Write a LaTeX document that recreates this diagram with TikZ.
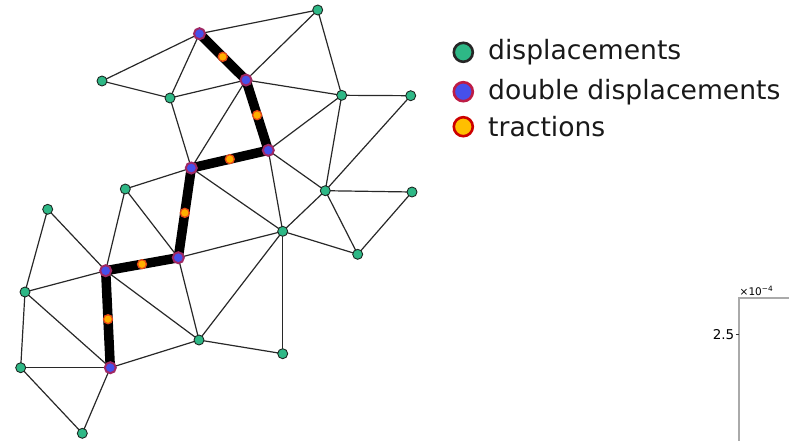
\documentclass[tikz,border=0pt]{standalone}
\usepackage{fontspec}
\setmainfont{DejaVu Sans}
\pgfdeclarelayer{edges}
\pgfsetlayers{edges,main}
\definecolor{gfill}{RGB}{46,184,134}
\definecolor{gline}{RGB}{30,40,35}
\definecolor{bfill}{RGB}{70,80,235}
\definecolor{bline}{RGB}{160,40,100}
\definecolor{ofill}{RGB}{255,175,0}
\definecolor{oline}{RGB}{230,70,20}
\definecolor{edgec}{RGB}{40,40,40}
\definecolor{axisc}{RGB}{170,170,170}
\tikzset{
  gnode/.style={circle,fill=gfill,draw=gline,line width=0.9pt,minimum size=10pt,inner sep=0pt},
  dnode/.style={circle,fill=bfill,draw=bline,line width=2pt,minimum size=11pt,inner sep=0pt},
  tnode/.style={circle,fill=ofill,draw=oline,line width=1.3pt,minimum size=9pt,inner sep=0pt},
  thin edge/.style={draw=edgec,line width=1.2pt},
  thick edge/.style={draw=black,line width=9.5pt,line join=round},
  lg/.style={circle,fill=gfill,draw=black!85,line width=2.6pt,minimum size=19pt,inner sep=0pt},
  lb/.style={circle,fill=bfill,draw=bline!70!red,line width=2.6pt,minimum size=19pt,inner sep=0pt},
  lo/.style={circle,fill=ofill!80!yellow,draw=red!80!black,line width=2.6pt,minimum size=19pt,inner sep=0pt},
  ltext/.style={anchor=west,inner sep=0pt,font=\fontsize{26.6}{30}\selectfont,text=black!90},
  axis line/.style={draw=axisc,line width=1.8pt}
}
\begin{document}
\begin{tikzpicture}[x=1pt,y=-1pt]
\useasboundingbox (0,0) rectangle (789,440);
% nodes
\node[dnode] (A) at (199.5,33.7) {};
\node[gnode] (B) at (317.7,10) {};
\node[gnode] (C) at (102,81) {};
\node[gnode] (D) at (170,98) {};
\node[dnode] (E) at (246,80) {};
\node[gnode] (F) at (341.7,95.3) {};
\node[gnode] (G) at (410.7,95.7) {};
\node[dnode] (H) at (268.3,150.3) {};
\node[dnode] (I) at (191.3,168) {};
\node[gnode] (J) at (125.3,189) {};
\node[gnode] (K) at (325.3,190.7) {};
\node[gnode] (L) at (412,192) {};
\node[gnode] (M) at (47.7,209.3) {};
\node[gnode] (N) at (282.7,231.3) {};
\node[gnode] (O) at (357.7,254.3) {};
\node[dnode] (P) at (178.3,257.7) {};
\node[dnode] (Q) at (105.7,270.7) {};
\node[gnode] (R) at (25,292) {};
\node[gnode] (S) at (199,340) {};
\node[gnode] (T) at (282.7,353.7) {};
\node[gnode] (U) at (20.7,367.7) {};
\node[dnode] (V) at (110.3,367.7) {};
\node[gnode] (W) at (82.3,433.3) {};
\begin{pgfonlayer}{edges}
\foreach \a/\b in {A/B,A/C,A/D,C/D,D/E,E/B,B/F,E/F,F/G,E/I,D/I,F/H,F/K,G/K,H/K,K/L,I/J,H/N,I/N,K/N,K/O,L/O,J/Q,J/P,M/Q,M/R,R/Q,R/V,R/U,U/V,U/W,V/W,Q/S,P/S,P/N,S/N,N/T,N/O,S/T,V/S}
  \draw[thin edge] (\a.center) -- (\b.center);
\draw[thick edge] (A.center) -- (E.center) -- (H.center) -- (I.center) -- (P.center) -- (Q.center) -- (V.center);
\end{pgfonlayer}
\path (A) -- node[tnode] (t1) {} (E);
\path (E) -- node[tnode] (t2) {} (H);
\path (H) -- node[tnode] (t3) {} (I);
\path (I) -- node[tnode] (t4) {} (P);
\path (P) -- node[tnode] (t5) {} (Q);
\path (Q) -- node[tnode] (t6) {} (V);
% legend
\node[lg] (l1) at (463.3,52.3) {};
\node[lb] (l2) at (463.3,91.7) {};
\node[lo] (l3) at (463.3,126.7) {};
\node[ltext] (l1t) at (488,52.3) {displacements};
\node[ltext] (l2t) at (488,91.7) {double displacements};
\node[ltext] (l3t) at (488,126.7) {tractions};
% axis fragment
\draw[axis line] (739.3,441) -- (739.3,298.3) -- (790,298.3);
\draw[draw=black!80,line width=0.8pt] (735.5,334.3) -- (739.3,334.3);
\node[anchor=east,inner sep=0pt,font=\fontsize{13.5}{15}\selectfont] (tick) at (734.5,334.3) {2.5};
\node[anchor=south west,inner sep=0pt,font=\fontsize{10.5}{12}\selectfont] (expo) at (739.5,295.5) {×10\textsuperscript{−4}};
\end{tikzpicture}
\end{document}
